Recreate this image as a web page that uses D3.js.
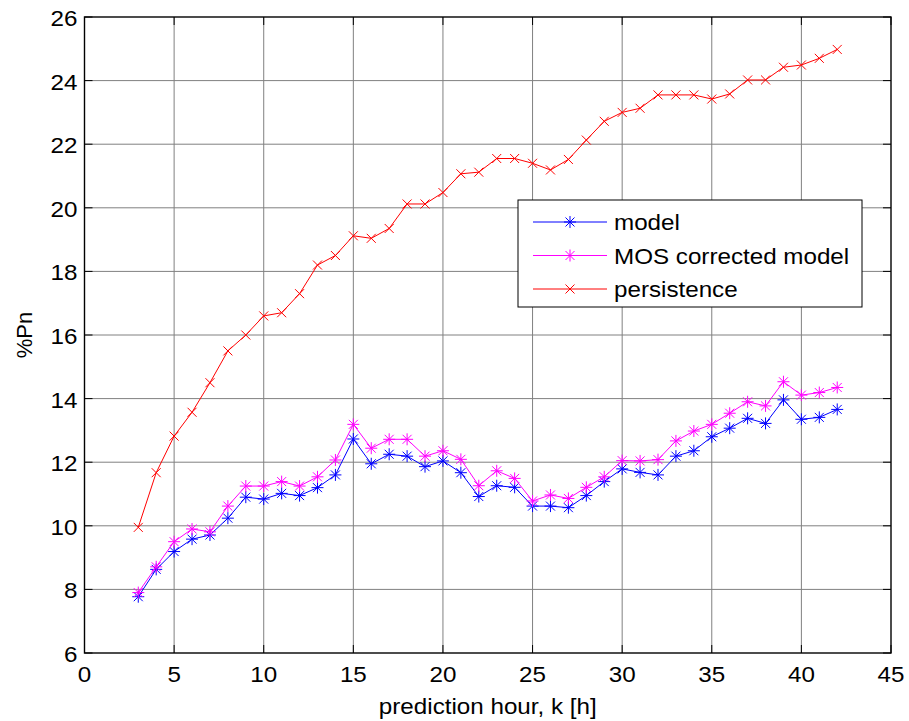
<!DOCTYPE html>
<html>
<head>
  <style>
    body {
      margin: 0;
      background: #fff;
    }
    text {
      font-family: Arial, "Liberation Sans", sans-serif;
      font-size: 22px;
      fill: #000;
    }
    .grid line {
      stroke: #808080;
      stroke-width: 1;
    }
    .series path.line {
      fill: none;
      stroke-width: 1;
    }
  </style>
</head>
<body>
  <script src="https://d3js.org/d3.v7.min.js"></script>
  <script>
    var width = 909, height = 721;
    var margin = {top: 17, right: 18, bottom: 68, left: 84.5};
    var stretch = 1.1; // text in the picture is a bit wider than plain Arial

    var hours = [3, 4, 5, 6, 7, 8, 9, 10, 11, 12, 13, 14, 15, 16, 17, 18, 19, 20, 21, 22,
                 23, 24, 25, 26, 27, 28, 29, 30, 31, 32, 33, 34, 35, 36, 37, 38, 39, 40, 41, 42];

    var model = [7.77, 8.63, 9.19, 9.58, 9.71, 10.24, 10.9, 10.84, 11.02, 10.95,
                 11.2, 11.6, 12.73, 11.95, 12.25, 12.19, 11.86, 12.04, 11.67, 10.92,
                 11.26, 11.21, 10.62, 10.62, 10.57, 10.95, 11.39, 11.79, 11.68, 11.6,
                 12.19, 12.36, 12.8, 13.07, 13.38, 13.22, 13.96, 13.35, 13.41, 13.66];

    var mos = [7.9, 8.71, 9.5, 9.9, 9.81, 10.62, 11.25, 11.25, 11.39, 11.25,
               11.54, 12.07, 13.19, 12.44, 12.72, 12.72, 12.19, 12.36, 12.09, 11.26,
               11.73, 11.49, 10.78, 10.97, 10.86, 11.21, 11.54, 12.05, 12.04, 12.08,
               12.67, 12.98, 13.19, 13.54, 13.9, 13.77, 14.53, 14.11, 14.19, 14.35];

    var persistence = [9.95, 11.67, 12.82, 13.57, 14.5, 15.5, 16.0, 16.6, 16.7, 17.3,
                       18.2, 18.5, 19.12, 19.04, 19.35, 20.12, 20.12, 20.48, 21.07, 21.12,
                       21.55, 21.55, 21.4, 21.19, 21.52, 22.13, 22.72, 23.0, 23.13, 23.55,
                       23.55, 23.55, 23.42, 23.58, 24.02, 24.02, 24.42, 24.49, 24.7, 24.98];

    var xTicks = [0, 5, 10, 15, 20, 25, 30, 35, 40, 45];
    var yTicks = [6, 8, 10, 12, 14, 16, 18, 20, 22, 24, 26];

    var seriesNames = ["model", "MOS corrected model", "persistence"];
    var seriesColors = ["#0000ff", "#ff00ff", "#ff0000"];
    var seriesMarkers = ["star", "star", "cross"];
    var seriesValues = [model, mos, persistence];

    var x = d3.scaleLinear().domain([0, 45]).range([margin.left, width - margin.right]);
    var y = d3.scaleLinear().domain([6, 26]).range([height - margin.bottom, margin.top]);

    var svg = d3.select("body").append("svg")
        .attr("width", width)
        .attr("height", height);

    // grid
    var grid = svg.append("g").attr("class", "grid");
    grid.selectAll("line.gx")
        .data(xTicks.slice(1, -1))
      .enter().append("line")
        .attr("x1", d => x(d)).attr("x2", d => x(d))
        .attr("y1", y(6)).attr("y2", y(26));
    grid.selectAll("line.gy")
        .data(yTicks.slice(1, -1))
      .enter().append("line")
        .attr("class", "gy")
        .attr("y1", d => y(d)).attr("y2", d => y(d))
        .attr("x1", x(0)).attr("x2", x(45));

    // inward ticks on all four sides, MATLAB style
    var tickLen = 8;
    var axisG = svg.append("g").attr("stroke", "#000").attr("stroke-width", 1);
    xTicks.forEach(function(t) {
      axisG.append("line").attr("x1", x(t)).attr("x2", x(t)).attr("y1", y(6)).attr("y2", y(6) - tickLen);
      axisG.append("line").attr("x1", x(t)).attr("x2", x(t)).attr("y1", y(26)).attr("y2", y(26) + tickLen);
    });
    yTicks.forEach(function(t) {
      axisG.append("line").attr("y1", y(t)).attr("y2", y(t)).attr("x1", x(0)).attr("x2", x(0) + tickLen);
      axisG.append("line").attr("y1", y(t)).attr("y2", y(t)).attr("x1", x(45)).attr("x2", x(45) - tickLen);
    });

    svg.append("rect")
        .attr("x", x(0)).attr("y", y(26))
        .attr("width", x(45) - x(0)).attr("height", y(6) - y(26))
        .attr("fill", "none")
        .attr("stroke", "#000")
        .attr("stroke-width", 1.4);

    // tick labels
    svg.selectAll("text.xt")
        .data(xTicks)
      .enter().append("text")
        .attr("class", "xt")
        .attr("text-anchor", "middle")
        .attr("transform", d => "translate(" + x(d) + "," + (y(6) + 29) + ") scale(" + stretch + ",1)")
        .text(d => d);

    svg.selectAll("text.yt")
        .data(yTicks)
      .enter().append("text")
        .attr("class", "yt")
        .attr("text-anchor", "end")
        .attr("transform", d => "translate(" + (x(0) - 7) + "," + (y(d) + 9) + ") scale(" + stretch + ",1)")
        .text(d => d);

    svg.append("text")
        .attr("text-anchor", "middle")
        .attr("transform", "translate(" + ((x(0) + x(45)) / 2) + "," + (height - 7) + ") scale(" + stretch + ",1)")
        .text("prediction hour, k [h]");

    svg.append("text")
        .attr("text-anchor", "middle")
        .attr("transform", "translate(32," + ((y(6) + y(26)) / 2) + ") rotate(-90)")
        .text("%Pn");

    // marker shapes
    function markerPath(kind) {
      if (kind === "star") {
        var r = 6, d = 4.5;
        return "M" + (-r) + ",0H" + r + "M0," + (-r) + "V" + r +
               "M" + (-d) + "," + (-d) + "L" + d + "," + d +
               "M" + (-d) + "," + d + "L" + d + "," + (-d);
      }
      var c = 4.5;
      return "M" + (-c) + "," + (-c) + "L" + c + "," + c + "M" + (-c) + "," + c + "L" + c + "," + (-c);
    }

    var line = d3.line()
        .x((d, i) => x(hours[i]))
        .y(d => y(d));

    var series = svg.selectAll("g.series")
        .data(seriesValues)
      .enter().append("g")
        .attr("class", "series");

    series.append("path")
        .attr("class", "line")
        .attr("stroke", (d, i) => seriesColors[i])
        .attr("d", d => line(d));

    series.each(function(vals, si) {
      d3.select(this).selectAll("path.mk")
          .data(vals)
        .enter().append("path")
          .attr("class", "mk")
          .attr("fill", "none")
          .attr("stroke", seriesColors[si])
          .attr("stroke-width", 1)
          .attr("transform", (d, i) => "translate(" + x(hours[i]) + "," + y(d) + ")")
          .attr("d", markerPath(seriesMarkers[si]));
    });

    // legend
    var lg = svg.append("g").attr("transform", "translate(518,200)");
    lg.append("rect")
        .attr("width", 344).attr("height", 107)
        .attr("fill", "#fff")
        .attr("stroke", "#000")
        .attr("stroke-width", 1);

    var rows = lg.selectAll("g.row")
        .data(seriesNames)
      .enter().append("g")
        .attr("class", "row")
        .attr("transform", (d, i) => "translate(0," + (22 + i * 33.5) + ")");

    rows.append("line")
        .attr("x1", 15).attr("x2", 89)
        .attr("stroke", (d, i) => seriesColors[i])
        .attr("stroke-width", 1);
    rows.append("path")
        .attr("transform", "translate(52,0)")
        .attr("fill", "none")
        .attr("stroke", (d, i) => seriesColors[i])
        .attr("d", (d, i) => markerPath(seriesMarkers[i]));
    rows.append("text")
        .attr("transform", "translate(96,8) scale(" + stretch + ",1)")
        .text(d => d);
  </script>
</body>
</html>
